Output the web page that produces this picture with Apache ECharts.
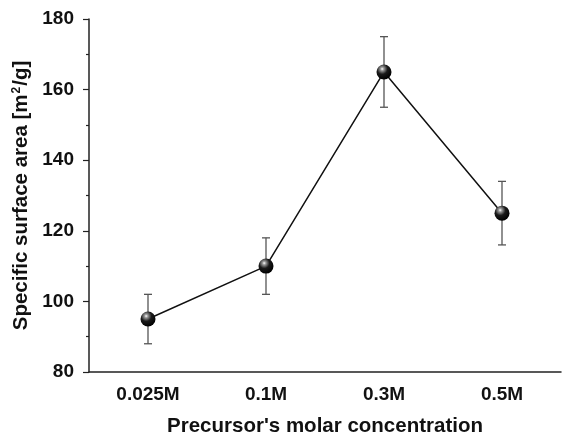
<!DOCTYPE html>
<html><head><meta charset="utf-8">
<script src="https://cdn.jsdelivr.net/npm/echarts@6/dist/echarts.min.js"></script>
<style>html,body{margin:0;padding:0;background:#fff}#c{width:562px;height:438px}</style>
</head><body><div id="c"></div>
<script>
const categories = ['0.025M', '0.1M', '0.3M', '0.5M'];
const values = [95, 110, 165, 125];
const errLow = [88, 102, 155, 116];
const errHigh = [102, 118, 175, 134];

const chart = echarts.init(document.getElementById('c'), null, {renderer: 'canvas'});
const font = '"Liberation Sans", Arial, sans-serif';
const sphere = new echarts.graphic.RadialGradient(0.38, 0.3, 0.7, [
  {offset: 0, color: '#ffffff'},
  {offset: 0.16, color: '#9a9a9a'},
  {offset: 0.5, color: '#1a1a1a'},
  {offset: 1, color: '#000000'}
]);
chart.setOption({
  animation: false,
  grid: {left: 89, right: 1, top: 19, bottom: 66, containLabel: false, outerBoundsMode: 'none'},
  xAxis: [{
    type: 'category', data: categories, boundaryGap: true,
    axisLine: {lineStyle: {color: '#222', width: 1.5}},
    axisTick: {alignWithLabel: true, length: 6, lineStyle: {color: '#222', width: 1.2}},
    axisLabel: {color: '#111', fontFamily: font, fontWeight: 'bold', fontSize: 19, margin: 13},
    name: "Precursor's molar concentration", nameLocation: 'middle', nameGap: 44,
    nameTextStyle: {color: '#111', fontFamily: font, fontWeight: 'bold', fontSize: 20.5},
    splitLine: {show: false}
  }, {
    type: 'category', data: categories, boundaryGap: true, position: 'bottom',
    axisLine: {show: false},
    axisTick: {length: 3, lineStyle: {color: '#222', width: 1.2}},
    axisLabel: {show: false}, splitLine: {show: false}
  }],
  yAxis: {
    type: 'value', min: 80, max: 180, interval: 20,
    axisLine: {show: true, lineStyle: {color: '#222', width: 1.5}},
    axisTick: {show: true, length: 6, lineStyle: {color: '#222', width: 1.2}},
    minorTick: {show: true, splitNumber: 2, length: 3, lineStyle: {color: '#222', width: 1.2}},
    axisLabel: {color: '#111', fontFamily: font, fontWeight: 'bold', fontSize: 19, margin: 15},
    splitLine: {show: false},
    name: 'Specific surface area [m{sup|2}/g]', nameLocation: 'middle', nameGap: 56,
    nameTextStyle: {
      color: '#111', fontFamily: font, fontWeight: 'bold', fontSize: 20.5,
      rich: {
        sup: {color: '#111', fontFamily: font, fontWeight: 'bold', fontSize: 12, verticalAlign: 'top', padding: [0, 1, 8, 1]}
      }
    }
  },
  series: [{
    type: 'custom', xAxisIndex: 0,
    renderItem: function (params, api) {
      const x = api.value(0);
      const lo = api.coord([x, api.value(1)]);
      const hi = api.coord([x, api.value(2)]);
      const w = 4;
      const st = {stroke: '#555', lineWidth: 1.3};
      return {type: 'group', children: [
        {type: 'line', shape: {x1: lo[0], y1: lo[1], x2: hi[0], y2: hi[1]}, style: st},
        {type: 'line', shape: {x1: lo[0] - w, y1: lo[1], x2: lo[0] + w, y2: lo[1]}, style: st},
        {type: 'line', shape: {x1: hi[0] - w, y1: hi[1], x2: hi[0] + w, y2: hi[1]}, style: st}
      ]};
    },
    data: categories.map((c, i) => [i, errLow[i], errHigh[i]]),
    z: 1
  }, {
    type: 'line', xAxisIndex: 0, data: values,
    symbol: 'circle', symbolSize: 15,
    lineStyle: {color: '#111', width: 1.5},
    itemStyle: {color: sphere, borderWidth: 0},
    z: 3
  }]
});
</script></body></html>
